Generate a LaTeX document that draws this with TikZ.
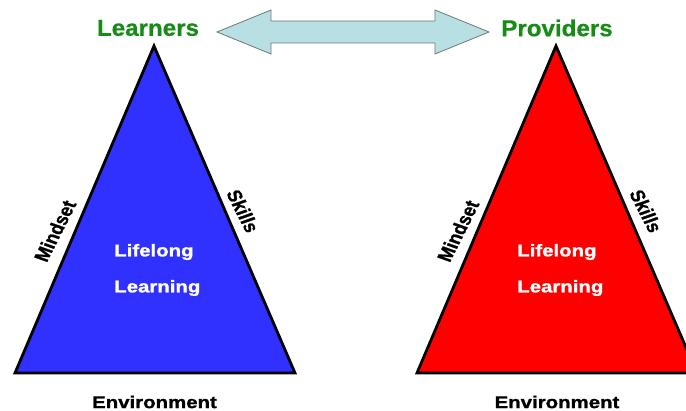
\documentclass[tikz,border=0pt]{standalone}
\usepackage{fontspec}
\setmainfont{Liberation Sans}[BoldFeatures={FakeBold=1.2}]
\newfontfamily\ttlfont{Liberation Sans}[BoldFeatures={FakeBold=0.6}]
\definecolor{ttlgreen}{RGB}{22,140,22}
\definecolor{triblue}{RGB}{48,48,255}
\definecolor{trired}{RGB}{255,0,0}
\definecolor{arrfill}{RGB}{184,224,226}
\definecolor{arrline}{RGB}{110,120,120}
\begin{document}
\begin{tikzpicture}[x=1pt,y=1pt,
  ttl/.style={font=\ttlfont\fontsize{23}{23}\selectfont\bfseries, text=ttlgreen, inner sep=0pt, xscale=1.05},
  lbl/.style={font=\fontsize{17}{17}\selectfont\bfseries, inner sep=0pt, xscale=1.2},
  tri/.style={draw=black, line width=2.8pt, line join=miter}]
\useasboundingbox (0,0) rectangle (686,411);
\clip (0,0) rectangle (686,411);
% left triangle
\coordinate (LA) at (154,365);
\coordinate (LL) at (15,38);
\coordinate (LR) at (295,38);
\draw[tri, fill=triblue] (LA) -- (LL) -- (LR) -- cycle;
% right triangle
\coordinate (RA) at (556,365);
\coordinate (RL) at (417,38);
\coordinate (RR) at (697,38);
\draw[tri, fill=trired] (RA) -- (RL) -- (RR) -- cycle;
% arrow
\draw[draw=arrline, fill=arrfill, line width=0.8pt]
  (217,379) -- (271,401) -- (271,390) -- (435,390) -- (435,401) -- (489,379)
  -- (435,357) -- (435,368) -- (271,368) -- (271,357) -- cycle;
% titles
\node[ttl] (learners) at (148,383) {Learners};
\node[ttl] (providers) at (557,383) {Providers};
% left labels
\node[lbl, rotate=67] (lm) at (55,180) {Mindset};
\node[lbl, rotate=-67] (ls) at (243,200) {Skills};
\node[lbl, text=white, anchor=west] (ll1) at (114,159) {Lifelong};
\node[lbl, text=white, anchor=west] (ll2) at (114,123) {Learning};
\node[lbl] (le) at (154.5,9) {Environment};
% right labels
\node[lbl, rotate=67] (rm) at (458,180) {Mindset};
\node[lbl, rotate=-67] (rs) at (646,200) {Skills};
\node[lbl, text=white, anchor=west] (rl1) at (517,159) {Lifelong};
\node[lbl, text=white, anchor=west] (rl2) at (517,123) {Learning};
\node[lbl] (re) at (557,9) {Environment};
\end{tikzpicture}
\end{document}
